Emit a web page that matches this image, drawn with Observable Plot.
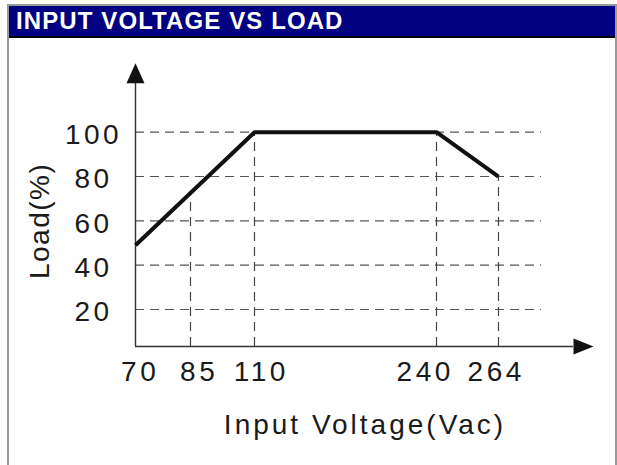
<!DOCTYPE html>
<html>
<head>
<meta charset="utf-8">
<script src="https://cdn.jsdelivr.net/npm/d3@7"></script>
<script src="https://cdn.jsdelivr.net/npm/@observablehq/plot@0.6"></script>
<style>
  html, body { margin: 0; padding: 0; background: #fff; }
  body { width: 617px; height: 465px; position: relative; overflow: hidden; font-family: "Liberation Sans", Arial, sans-serif; }
  #title { position: absolute; left: 9px; top: 6px; width: 606px; height: 30px; background: #000080; color: #fff;
           font-weight: bold; font-size: 24px; letter-spacing: 1.1px; line-height: 30px; box-sizing: border-box; padding-left: 7px; white-space: nowrap; }
  #rule { position: absolute; left: 9px; top: 36px; width: 608px; height: 2px; background: #000; }
  #chart { position: absolute; left: 0; top: 38px; }
  .bl { position: absolute; left: 7px; top: 4px; width: 2px; height: 461px; background: #9a9a9a; }
  .br { position: absolute; left: 615px; top: 4px; width: 2px; height: 461px; background: #9a9a9a; }
  .bt { position: absolute; left: 7px; top: 4px; width: 610px; height: 2px; background: #9a9a9a; }
</style>
</head>
<body>
<div id="chart"></div>
<div id="title">INPUT VOLTAGE VS LOAD</div>
<div id="rule"></div>
<div class="bl"></div><div class="br"></div><div class="bt"></div>
<script>
// Data
const voltage = [70, 110, 240, 264];
const load = [49, 100, 100, 80];
const dropVoltage = [85, 110, 240, 264];
const dropLoad = [71, 100, 100, 80];
const xTicks = [70, 85, 110, 240, 264];
const yTicks = [20, 40, 60, 80, 100];
const xLabel = "Input Voltage(Vac)";
const yLabel = "Load(%)";

const curve = voltage.map((v, i) => ({v, l: load[i]}));
const drops = dropVoltage.map((v, i) => ({v, l: dropLoad[i]}));

const arrowHead = (w, h) => ({
  draw(ctx) { ctx.moveTo(0, -h); ctx.lineTo(w / 2, 0); ctx.lineTo(-w / 2, 0); ctx.closePath(); }
});

const ink = "#1a1a1a";
const W = 617, H = 427;
// small horizontal nudges of the x tick labels, as typeset in the reference
const tickNudge = {70: 3, 85: 7, 110: 5, 240: -13, 264: -4};
const xTickText = (v) => Plot.text([v], { x: d => d, text: d => String(d), frameAnchor: "bottom", dy: 26, dx: tickNudge[v] + 1.7,
                        fontSize: 28, fill: ink, textAnchor: "middle", lineAnchor: "middle" });

const chart = Plot.plot({
  width: W,
  height: H,
  marginLeft: 135,
  marginRight: 44,
  marginTop: 44.7,
  marginBottom: 119,
  style: { background: "transparent", fontFamily: "'Liberation Sans', Arial, sans-serif", overflow: "visible" },
  x: { type: "linear", domain: xTicks, range: [135, 190, 254, 436, 498], axis: null },
  y: { type: "linear", domain: [3.3, 100], range: [308, 93.7], clamp: true, axis: null },
  marks: [
    Plot.ruleY(yTicks, { y: d => d, stroke: "#555", strokeWidth: 1.2, strokeDasharray: "9,6", insetRight: 32 }),
    Plot.ruleX(drops, { x: "v", y1: 0, y2: "l", stroke: "#444", strokeWidth: 1.2, strokeDasharray: "9,6" }),
    Plot.ruleY([0], { stroke: "#333", strokeWidth: 1.4 }),
    Plot.ruleX([xTicks[0]], { x: d => d, stroke: "#333", strokeWidth: 1.4 }),
    Plot.dot([xTicks[0]], { x: d => d, frameAnchor: "top", symbol: arrowHead(18, 20), fill: "#111", stroke: "none" }),
    Plot.dot([0], { y: d => d, frameAnchor: "right", symbol: arrowHead(16, 20), rotate: 90, fill: "#111", stroke: "none" }),
    Plot.line(curve, { x: "v", y: "l", stroke: "#111", strokeWidth: 4, strokeLinejoin: "miter", strokeLinecap: "butt" }),
    ...xTicks.map(xTickText),
    Plot.text(yTicks, { y: d => d, text: d => String(d), frameAnchor: "left", dx: -42, dy: 3, fontSize: 28, fill: ink,
                        textAnchor: "middle", lineAnchor: "middle" }),
    Plot.text([xLabel], { text: d => d, frameAnchor: "bottom", dx: 10.5, dy: 79, fontSize: 28, fill: ink,
                          textAnchor: "middle", lineAnchor: "middle" }),
    Plot.text([yLabel], { text: d => d, frameAnchor: "left", dx: -95, dy: 6, rotate: -90, fontSize: 28, fill: ink,
                          textAnchor: "middle", lineAnchor: "middle" })
  ]
});

// letter spacing as in the reference (wide-set Arial-like text)
d3.select(chart).selectAll("text").each(function () {
  const t = this.textContent;
  let ls = null;
  if (/^\d+$/.test(t)) ls = "3.5px";
  else if (t === xLabel) ls = "3px";
  else if (t === yLabel) ls = "1.5px";
  if (ls) { this.setAttribute("letter-spacing", ls); this.style.letterSpacing = ls; }
});
document.getElementById("chart").appendChild(chart);
</script>
</body>
</html>
